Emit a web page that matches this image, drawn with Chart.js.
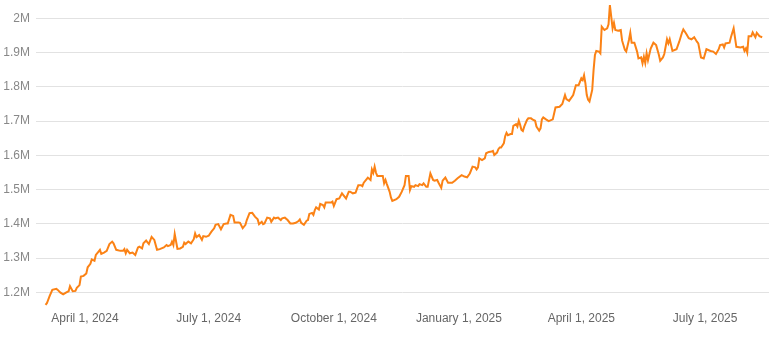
<!DOCTYPE html>
<html>
<head>
<meta charset="utf-8">
<script src="https://cdn.jsdelivr.net/npm/chart.js@4"></script>
<style>
  body { margin: 0; background: #fff; }
  #wrap { width: 769px; height: 341px; position: relative; }
</style>
</head>
<body>
<div id="wrap"><canvas id="chart"></canvas></div>
<script>
// giorni dal 1 marzo 2024
const startDate = Date.UTC(2024, 2, 1);
const DAY = 86400000;

const days = [
  2, 3, 5, 7, 10, 11, 13, 15, 17, 19, 20, 22, 24, 25, 27, 28, 30, 32, 33, 35,
  36, 38, 39, 41, 42, 43, 45, 47, 49, 51, 52, 54, 57, 59, 60, 61, 62, 64, 66, 68,
  70, 71, 73, 74, 76, 78, 80, 82, 84, 86, 89, 91, 92, 94, 95, 96, 97, 99, 101, 103,
  104, 105, 107, 109, 111, 112, 113, 115, 117, 118, 120, 122, 124, 126, 127, 129, 131, 133, 135, 136,
  138, 140, 141, 144, 145, 147, 149, 150, 152, 154, 156, 158, 159, 161, 162, 163, 165, 167, 168, 170,
  171, 173, 175, 176, 178, 180, 182, 184, 186, 188, 189, 190, 192, 194, 195, 196, 198, 199, 200, 201,
  203, 204, 206, 207, 208, 210, 212, 213, 214, 216, 218, 220, 221, 223, 225, 226, 228, 230, 232, 234,
  235, 236, 238, 239, 241, 242, 243, 244, 245, 246, 248, 250, 251, 252, 253, 255, 256, 257, 260, 262,
  264, 266, 267, 269, 270, 271, 273, 274, 276, 277, 279, 280, 282, 283, 285, 287, 288, 290, 291, 293,
  294, 296, 298, 301, 303, 305, 308, 310, 312, 314, 316, 318, 319, 320, 321, 323, 325, 326, 328, 330,
  331, 332, 334, 335, 336, 337, 339, 340, 341, 342, 344, 345, 346, 348, 349, 350, 351, 352, 353, 354,
  356, 357, 359, 360, 362, 363, 365, 366, 367, 368, 370, 372, 375, 377, 380, 382, 384, 385, 387, 390,
  392, 394, 396, 397, 398, 399, 400, 401, 402, 404, 405, 406, 407, 409, 410, 411, 413, 415, 416, 417,
  419, 420, 421, 423, 425, 426, 428, 429, 431, 432, 433, 435, 437, 438, 440, 441, 442, 443, 444, 445,
  447, 449, 451, 453, 454, 456, 457, 459, 460, 461, 463, 466, 468, 470, 471, 473, 475, 477, 479, 481,
  482, 484, 486, 488, 491, 493, 495, 497, 498, 500, 501, 502, 505, 506, 508, 510, 513, 515, 516, 517,
  518, 519, 521, 522, 524, 525, 527, 529
];

// valori in migliaia
const values = [
  1163, 1168, 1189, 1207, 1210, 1207, 1199, 1194, 1199, 1203, 1218, 1203, 1204, 1213, 1221, 1246, 1248, 1255, 1273, 1283,
  1296, 1292, 1309, 1319, 1324, 1312, 1316, 1321, 1341, 1348, 1343, 1324, 1321, 1321, 1326, 1314, 1324, 1314, 1316, 1309,
  1331, 1333, 1328, 1343, 1351, 1341, 1362, 1353, 1324, 1326, 1331, 1338, 1335, 1338, 1348, 1338, 1370, 1327, 1328, 1333,
  1345, 1341, 1348, 1343, 1355, 1372, 1361, 1367, 1353, 1364, 1362, 1365, 1377, 1387, 1397, 1399, 1384, 1399, 1401, 1401,
  1426, 1423, 1404, 1404, 1403, 1387, 1397, 1411, 1431, 1432, 1421, 1413, 1399, 1406, 1399, 1401, 1418, 1416, 1406, 1418,
  1416, 1418, 1411, 1416, 1418, 1411, 1401, 1401, 1403, 1408, 1413, 1403, 1397, 1409, 1411, 1429, 1432, 1426, 1440, 1448,
  1442, 1458, 1455, 1448, 1462, 1462, 1462, 1465, 1452, 1472, 1474, 1489, 1484, 1474, 1494, 1494, 1489, 1491, 1513, 1513,
  1510, 1520, 1530, 1535, 1528, 1559, 1549, 1567, 1549, 1540, 1540, 1540, 1518, 1528, 1516, 1494, 1477, 1467, 1472, 1479,
  1494, 1513, 1540, 1540, 1499, 1510, 1508, 1513, 1510, 1516, 1513, 1518, 1508, 1508, 1547, 1528, 1526, 1528, 1520, 1505,
  1526, 1535, 1520, 1520, 1526, 1533, 1542, 1538, 1536, 1547, 1567, 1565, 1559, 1565, 1591, 1586, 1591, 1606, 1610, 1611,
  1613, 1601, 1608, 1618, 1623, 1623, 1635, 1656, 1666, 1659, 1662, 1662, 1686, 1691, 1684, 1701, 1689, 1674, 1671, 1684,
  1703, 1708, 1708, 1705, 1701, 1684, 1672, 1679, 1705, 1711, 1705, 1700, 1705, 1740, 1742, 1750, 1776, 1764, 1759, 1776,
  1805, 1805, 1825, 1820, 1834, 1810, 1776, 1762, 1757, 1791, 1849, 1893, 1905, 1903, 1898, 1976, 1966, 1971, 1983, 2039,
  1971, 1987, 1966, 1964, 1966, 1935, 1908, 1903, 1937, 1958, 1929, 1929, 1903, 1883, 1886, 1869, 1888, 1870, 1898, 1878,
  1912, 1929, 1922, 1894, 1876, 1886, 1896, 1939, 1927, 1939, 1905, 1910, 1932, 1958, 1968, 1956, 1942, 1939, 1945, 1932,
  1927, 1886, 1883, 1910, 1905, 1903, 1896, 1910, 1922, 1924, 1915, 1927, 1929, 1945, 1971, 1917, 1915, 1917, 1905, 1912,
  1900, 1948, 1948, 1959, 1945, 1958, 1948, 1945
];

const xTickDates = ["2024-04-01", "2024-07-01", "2024-10-01", "2025-01-01", "2025-04-01", "2025-07-01"];
const xTickLabels = ["April 1, 2024", "July 1, 2024", "October 1, 2024", "January 1, 2025", "April 1, 2025", "July 1, 2025"];
const yTickValues = [1200000, 1300000, 1400000, 1500000, 1600000, 1700000, 1800000, 1900000, 2000000];
const yTickLabels = ["1.2M", "1.3M", "1.4M", "1.5M", "1.6M", "1.7M", "1.8M", "1.9M", "2M"];

const punti = days.map((d, i) => ({ x: startDate + d * DAY, y: values[i] * 1000 }));
const xTicks = xTickDates.map(s => Date.parse(s + "T00:00:00Z"));

const fontTick = { family: "'Liberation Sans', Arial, sans-serif", size: 12 };

new Chart(document.getElementById("chart"), {
  type: "line",
  data: {
    datasets: [{
      data: punti,
      borderColor: "#fb8215",
      borderWidth: 2,
      pointRadius: 0,
      tension: 0,
      fill: false,
    }],
  },
  options: {
    responsive: true,
    maintainAspectRatio: false,
    animation: false,
    layout: { padding: { top: 3, left: 3, right: 0, bottom: 0 } },
    plugins: { legend: { display: false }, tooltip: { enabled: false } },
    scales: {
      x: {
        type: "linear",
        min: Date.parse("2024-02-25T00:00:00Z"),
        max: Date.parse("2025-08-17T00:00:00Z"),
        grid: { display: false, drawTicks: false },
        border: { display: false },
        afterBuildTicks: (axis) => { axis.ticks = xTicks.map(v => ({ value: v })); },
        afterFit: (axis) => {
          axis.height = 34;
          axis.paddingLeft = 0;
          axis.paddingRight = 0;
        },
        ticks: {
          autoSkip: false,
          maxRotation: 0,
          padding: 4,
          color: "#666",
          font: fontTick,
          callback: (v) => xTickLabels[xTicks.indexOf(v)],
        },
      },
      y: {
        min: 1157000,
        max: 2045000,
        grid: { color: "#e2e2e2", drawTicks: false },
        border: { display: false },
        afterBuildTicks: (axis) => { axis.ticks = yTickValues.map(v => ({ value: v })); },
        afterFit: (axis) => {
          axis.width = 33;
          axis.paddingTop = 0;
          axis.paddingBottom = 0;
        },
        ticks: {
          padding: 6,
          color: "#888",
          font: fontTick,
          callback: (v) => yTickLabels[yTickValues.indexOf(v)],
        },
      },
    },
  },
});
</script>
</body>
</html>
